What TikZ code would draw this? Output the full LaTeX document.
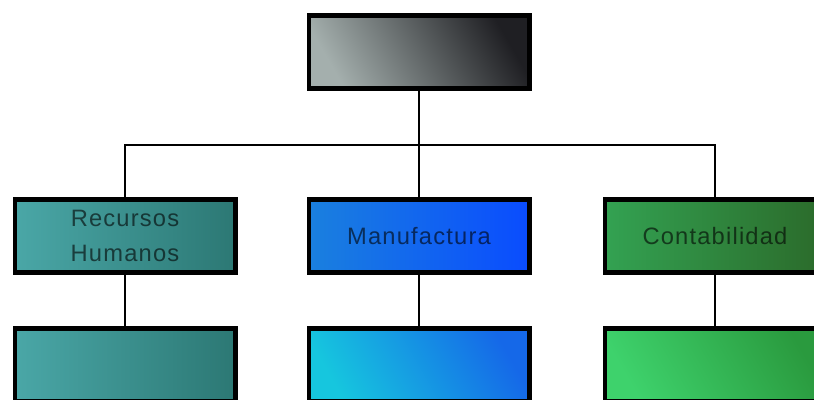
\documentclass[tikz,border=0pt]{standalone}
\usepackage{fontspec}
\setmainfont{Liberation Sans}
\newfontfamily\rotulo[LetterSpace=5]{Liberation Sans}
\usetikzlibrary{positioning}

\definecolor{grisclaro}{HTML}{A4AFAD}
\definecolor{grisoscuro}{HTML}{1F1F23}
\definecolor{tealclaro}{HTML}{4AA7A7}
\definecolor{tealoscuro}{HTML}{2C7874}
\definecolor{azulclaro}{HTML}{1A80DE}
\definecolor{azuloscuro}{HTML}{0A4CFF}
\definecolor{cianclaro}{HTML}{16C6DE}
\definecolor{cianoscuro}{HTML}{1568E8}
\definecolor{verdeclaro}{HTML}{33A252}
\definecolor{verdeoscuro}{HTML}{2B6A2A}
\definecolor{verdevivo}{HTML}{3ED26C}
\definecolor{verdemedio}{HTML}{2A9A3E}

\begin{document}
\begin{tikzpicture}[x=0.02cm,y=-0.02cm,
    caja/.style={rectangle, draw=black, line width=2.3pt, minimum width=4.42cm,
      minimum height=1.46cm, inner sep=0pt, align=center,
      font=\rotulo\fontsize{13.5}{19.5}\selectfont, text=black, text opacity=0.6},
    linea/.style={line width=1.5pt}]
      \useasboundingbox (0,0) rectangle (814,399);
      \clip (0,0) rectangle (814,399);
      \node[caja, shading=axis, top color=grisoscuro, bottom color=grisclaro, shading angle=-60] at (419,52) (dir) {};
      \node[caja, left color=tealclaro, right color=tealoscuro] at (125,236) (rh) {Recursos\\Humanos};
      \node[caja, left color=azulclaro, right color=azuloscuro] at (419,236) (manu) {Manufactura};
      \node[caja, left color=verdeclaro, right color=verdeoscuro] at (715,236) (conta) {Contabilidad};
      \node[caja, left color=tealclaro, right color=tealoscuro] at (125,365) (rhsub) {};
      \node[caja, shading=axis, top color=cianoscuro, bottom color=cianclaro, shading angle=-60] at (419,365) (manusub) {};
      \node[caja, shading=axis, top color=verdemedio, bottom color=verdevivo, shading angle=-60] at (715,365) (contasub) {};
      \coordinate (bus) at (419,145);
      \draw[linea] (dir) -- (bus);
      \draw[linea] (bus) -| (rh);
      \draw[linea] (bus) -- (manu);
      \draw[linea] (bus) -| (conta);
      \draw[linea] (rh) -- (rhsub);
      \draw[linea] (manu) -- (manusub);
      \draw[linea] (conta) -- (contasub);
\end{tikzpicture}
\end{document}
